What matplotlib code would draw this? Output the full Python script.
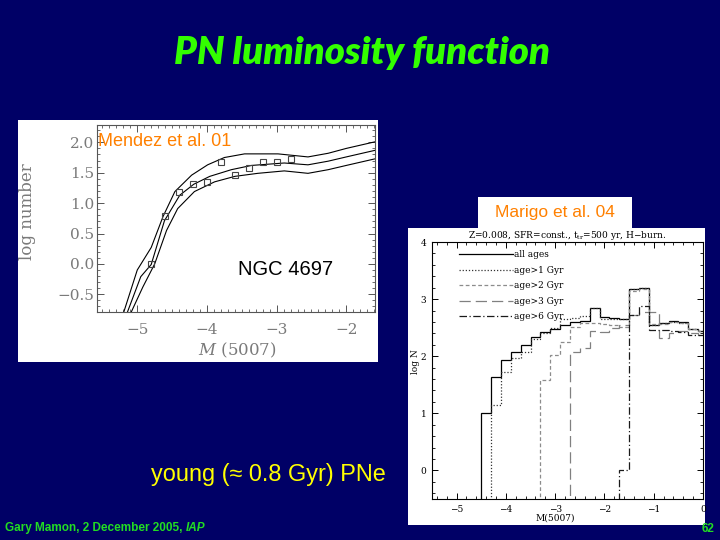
import numpy as np
import matplotlib
matplotlib.use('Agg')
import matplotlib.pyplot as plt
from matplotlib.patches import Rectangle
from matplotlib.lines import Line2D
from matplotlib.ticker import MultipleLocator, FuncFormatter

plt.rcParams['mathtext.fontset'] = 'dejavuserif'

# ---- Mendez et al. 01 : NGC 4697 PNLF ----
mendez_mag = [-4.8, -4.6, -4.4, -4.2, -4.0, -3.8, -3.6, -3.4, -3.2, -3.0, -2.8]
mendez_logn = [0.0, 0.78, 1.18, 1.31, 1.34, 1.68, 1.46, 1.58, 1.67, 1.68, 1.73]

model_mid_x = [-5.16, -4.95, -4.80, -4.61, -4.39, -4.19, -3.96, -3.65, -3.36, -2.89, -2.55, -2.26, -2.00, -1.62, -1.50]
model_mid_y = [-0.85, -0.21, -0.01, 0.71, 1.13, 1.31, 1.44, 1.55, 1.62, 1.66, 1.63, 1.69, 1.76, 1.86, 1.89]
model_hi_x = [-5.21, -5.00, -4.80, -4.63, -4.46, -4.22, -3.99, -3.75, -3.46, -2.98, -2.55, -2.26, -2.00, -1.62, -1.50]
model_hi_y = [-0.85, -0.10, 0.27, 0.78, 1.19, 1.46, 1.63, 1.75, 1.81, 1.81, 1.76, 1.82, 1.90, 2.00, 2.03]
model_lo_x = [-5.11, -4.92, -4.75, -4.58, -4.42, -4.18, -3.89, -3.60, -3.27, -2.89, -2.55, -2.26, -2.00, -1.62, -1.50]
model_lo_y = [-0.85, -0.38, 0.00, 0.55, 0.91, 1.19, 1.35, 1.44, 1.49, 1.53, 1.49, 1.55, 1.62, 1.72, 1.75]

# ---- Marigo et al. 04 : model PNLF histograms ----
nan = np.nan
bin_edges = [-4.5, -4.3, -4.1, -3.9, -3.7, -3.5, -3.3, -3.1, -2.9, -2.7, -2.5, -2.3,
             -2.1, -1.9, -1.7, -1.5, -1.3, -1.1, -0.9, -0.7, -0.5, -0.3, -0.1, 0.1]
all_ages = [1.00, 1.63, 1.93, 2.08, 2.19, 2.33, 2.42, 2.48, 2.55, 2.60, 2.62, 2.85,
            2.68, 2.67, 2.66, 3.17, 3.19, 2.55, 2.58, 2.61, 2.60, 2.48, 2.45]
age_gt1 = [nan, 1.15, 1.72, 1.97, 2.07, 2.30, 2.40, 2.50, 2.65, 2.67, 2.70, 2.85,
           2.66, 2.66, 2.65, 3.17, 3.19, 2.55, 2.58, 2.60, 2.58, 2.47, 2.44]
age_gt2 = [nan, nan, nan, nan, nan, nan, 1.58, 2.03, 2.25, 2.52, 2.58, 2.58,
           2.56, 2.55, 2.52, 3.15, 3.18, 2.56, 2.57, 2.60, 2.58, 2.47, 2.44]
age_gt3 = [nan, nan, nan, nan, nan, nan, nan, nan, nan, 2.08, 2.14, 2.45,
           2.43, 2.50, 2.55, 2.73, 2.77, 2.77, 2.32, 2.40, 2.45, 2.40, 2.37]
age_gt6 = [nan, nan, nan, nan, nan, nan, nan, nan, nan, nan, nan, nan,
           nan, nan, 0.0, 2.73, 2.88, 2.46, 2.46, 2.45, 2.42, 2.38, 2.37]
series_labels = ['all ages', 'age>1 Gyr', 'age>2 Gyr', 'age>3 Gyr', 'age>6 Gyr']

BG = '#000066'
GREEN = '#22dd22'
W, H = 720.0, 540.0


def px(x, y):
    return x / W, 1 - y / H


fig = plt.figure(figsize=(7.2, 5.4), dpi=100, facecolor=BG)

# white panels behind the two plots
for (x0, y0, x1, y1) in [(18, 120, 378, 362), (408, 228, 705, 525), (478, 197, 632, 228)]:
    fig.add_artist(Rectangle((x0 / W, 1 - y1 / H), (x1 - x0) / W, (y1 - y0) / H,
                             transform=fig.transFigure, facecolor='white',
                             edgecolor='none', zorder=-1))

# slide text
fig.text(*px(362, 53), 'PN luminosity function', color='#33ff00', fontsize=27.5,
         family='Lato', weight='heavy', style='italic', ha='center', va='center')
fig.text(*px(151, 475), 'young (\u2248 0.8 Gyr) PNe', color='#ffff00', fontsize=16.9,
         family='Liberation Sans', ha='left', va='center')
foot = fig.text(*px(5, 528), 'Gary Mamon, 2 December 2005, ', color=GREEN, fontsize=8.5,
                family='Liberation Sans', weight='bold', ha='left', va='center')
fig.canvas.draw()
foot_end = foot.get_window_extent(fig.canvas.get_renderer()).x1 / fig.bbox.width
fig.text(foot_end, 1 - 528 / H, 'IAP', color=GREEN, fontsize=8.5, family='Liberation Sans',
         weight='bold', style='italic', ha='left', va='center')
fig.text(*px(715, 529), '62', color=GREEN, fontsize=8.5, family='Liberation Sans',
         weight='bold', ha='right', va='center')

# ---- left panel ----
gray = '#555555'
lab_gray = '#7a7a7a'
ax1 = fig.add_axes([97 / W, 1 - 312 / H, 278 / W, 187 / H])
ax1.plot(model_hi_x, model_hi_y, color='black', lw=0.8)
ax1.plot(model_mid_x, model_mid_y, color='black', lw=0.8)
ax1.plot(model_lo_x, model_lo_y, color='black', lw=0.8)
ax1.plot(mendez_mag, mendez_logn, ls='none', marker='s', ms=4.5, mfc='none',
         mec='#444444', mew=0.8)
ax1.set_xlim(-5.578, -1.588)
ax1.set_ylim(-0.791, 2.285)
ax1.xaxis.set_major_locator(MultipleLocator(1))
ax1.xaxis.set_minor_locator(MultipleLocator(0.1))
ax1.yaxis.set_major_locator(MultipleLocator(0.5))
ax1.yaxis.set_minor_locator(MultipleLocator(0.1))
ax1.yaxis.set_major_formatter(FuncFormatter(lambda v, p: f'{v:.1f}'.replace('-', '\u2212')))
ax1.tick_params(which='both', direction='in', top=True, right=True, colors=gray,
                labelcolor=lab_gray, labelsize=11)
ax1.tick_params(which='major', length=5, width=0.7)
ax1.tick_params(which='minor', length=2.5, width=0.6)
ax1.tick_params(axis='x', pad=8)
ax1.tick_params(axis='y', pad=2)
for lab in ax1.get_xticklabels() + ax1.get_yticklabels():
    lab.set_family('DejaVu Serif')
for s in ax1.spines.values():
    s.set_color(gray)
    s.set_linewidth(0.8)
ax1.text((28 - 97) / 278, (312 - 212) / 187, 'log number', transform=ax1.transAxes,
         rotation=90, ha='center', va='center', color=lab_gray, fontsize=12,
         family='DejaVu Serif')
ax1.text((237 - 97) / 278, (312 - 350) / 187, r'$M$ (5007)', transform=ax1.transAxes,
         ha='center', va='center', color=lab_gray, fontsize=12, family='DejaVu Serif')
ax1.text((98 - 97) / 278, (312 - 142) / 187, 'Mendez et al. 01', transform=ax1.transAxes,
         ha='left', va='center', color='#ff8000', fontsize=13, family='Liberation Sans')
ax1.text((238 - 97) / 278, (312 - 270) / 187, 'NGC 4697', transform=ax1.transAxes,
         ha='left', va='center', color='black', fontsize=14.5, family='Liberation Sans')

# ---- right panel ----
ax2 = fig.add_axes([432 / W, 1 - 499 / H, 271 / W, 257 / H])
styles = [
    dict(color='black', ls='-', lw=0.9),
    dict(color='0.2', ls=(0, (1, 1.5)), lw=0.9),
    dict(color='0.55', ls=(0, (3, 2)), lw=0.9),
    dict(color='0.5', ls=(0, (9, 4)), lw=0.9),
    dict(color='0.1', ls=(0, (6, 2, 1, 2)), lw=0.9),
]
edges = np.array(bin_edges)
handles = []
for vals, st, lab in zip([all_ages, age_gt1, age_gt2, age_gt3, age_gt6], styles, series_labels):
    v = np.array(vals)
    i0 = int(np.argmax(np.isfinite(v)))
    ax2.stairs(v[i0:], edges[i0:], baseline=-1.0, color=st['color'],
               linestyle=st['ls'], linewidth=st['lw'])
    handles.append(Line2D([], [], color=st['color'], ls=st['ls'], lw=st['lw'], label=lab))
ax2.set_xlim(-5.5, 0)
ax2.set_ylim(-0.5, 4)
ax2.xaxis.set_major_locator(MultipleLocator(1))
ax2.xaxis.set_minor_locator(MultipleLocator(0.2))
ax2.yaxis.set_major_locator(MultipleLocator(1))
ax2.yaxis.set_minor_locator(MultipleLocator(0.2))
ax2.tick_params(which='both', direction='in', top=True, right=True, labelsize=6.5,
                colors='black')
ax2.tick_params(which='major', length=4, width=0.7)
ax2.tick_params(which='minor', length=2, width=0.6)
ax2.tick_params(axis='x', pad=4)
ax2.tick_params(axis='y', pad=4)
for lab in ax2.get_xticklabels() + ax2.get_yticklabels():
    lab.set_family('DejaVu Serif')
for s in ax2.spines.values():
    s.set_linewidth(0.8)
ax2.set_title('Z=0.008, SFR=const., t$_{\\rm tr}$=500 yr, H\u2212burn.', fontsize=6.5,
              family='DejaVu Serif', pad=3)
ax2.text((415 - 432) / 271, (499 - 362) / 257, 'log N', transform=ax2.transAxes,
         rotation=90, ha='center', va='center', fontsize=6.5, family='DejaVu Serif')
ax2.text((555 - 432) / 271, (499 - 518) / 257, 'M(5007)', transform=ax2.transAxes,
         ha='center', va='center', fontsize=6.5, family='DejaVu Serif')
ax2.legend(handles=handles, loc='upper left', bbox_to_anchor=(0.098, 0.968),
           frameon=False, handlelength=6.0, handletextpad=0.1, labelspacing=0.72,
           borderpad=0, borderaxespad=0, prop=dict(family='DejaVu Serif', size=6.5))

fig.text(*px(555, 213), 'Marigo et al. 04', color='#ff8000', fontsize=12.5,
         family='Liberation Sans', ha='center', va='center')

fig.savefig('out.png', dpi=100, facecolor=BG)
